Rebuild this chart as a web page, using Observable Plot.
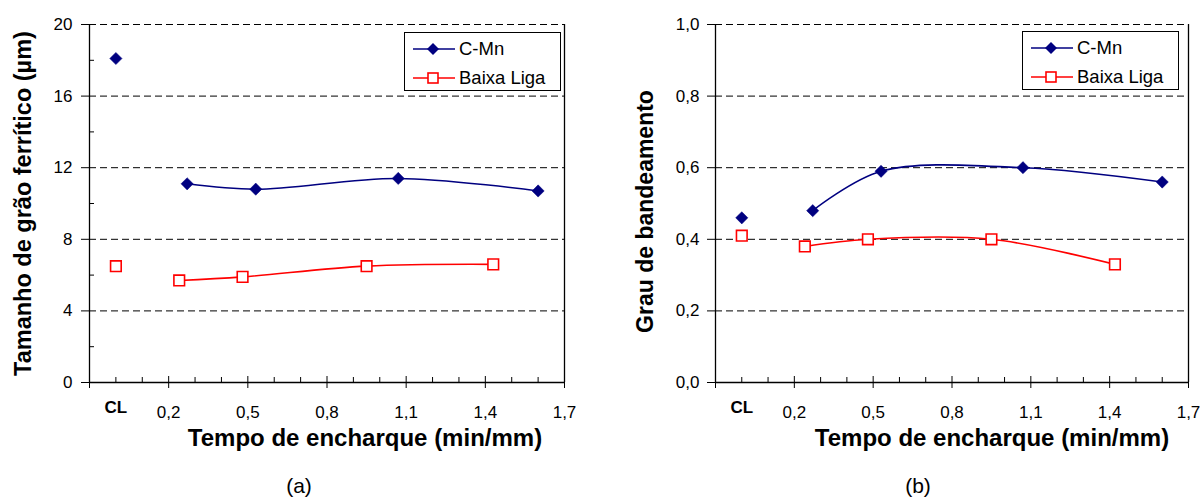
<!DOCTYPE html>
<html><head><meta charset="utf-8">
<script src="https://cdn.jsdelivr.net/npm/d3@7"></script>
<script src="https://cdn.jsdelivr.net/npm/@observablehq/plot@0.6"></script>
<style>
body{margin:0;background:#fff;font-family:"Liberation Sans",Arial,sans-serif;}
#wrap{position:relative;width:1200px;height:499px;overflow:hidden;background:#fff;}
.panel{position:absolute;top:0;}
.legend{position:absolute;box-sizing:border-box;border:1px solid #000;background:#fff;font-size:18.5px;padding:2px 0 0 8px;}
.legend .row{display:flex;align-items:center;height:28.5px;}
.legend svg{display:block;margin-right:4px;}
.cap{position:absolute;font-size:21px;transform:translate(-50%,-50%);white-space:nowrap;}
</style></head>
<body><div id="wrap"></div>
<script>
// ---------- shared axis data ----------
const xMajorTicks = [-0.1, 0.2, 0.5, 0.8, 1.1, 1.4, 1.7];
const xLabelTicks = [0.2, 0.5, 0.8, 1.1, 1.4, 1.7];
const xMinorTicks = [0, 0.1, 0.3, 0.4, 0.6, 0.7, 0.9, 1.0, 1.2, 1.3, 1.5, 1.6];
const clPosition = 0;
const clLabel = "CL";
const xTitle = "Tempo de encharque (min/mm)";
const seriesNames = ["C-Mn", "Baixa Liga"];
const seriesColors = ["#000080", "#ff0000"];

// ---------- chart (a): grain size ----------
const aYTicks = [0, 4, 8, 12, 16, 20];
const aYMinor = [2, 6, 10, 14, 18];
const aYGrid = [4, 8, 12, 16, 20];
const aTitle = "Tamanho de grão ferrítico (µm)";
const aCMnTime = [0.27, 0.53, 1.07, 1.60];
const aCMnValue = [11.1, 10.8, 11.4, 10.7];
const aCMnCL = 18.1;
const aBLTime = [0.24, 0.48, 0.95, 1.43];
const aBLValue = [5.7, 5.9, 6.5, 6.6];
const aBLCL = 6.5;

// ---------- chart (b): banding degree ----------
const bYTicks = [0, 0.2, 0.4, 0.6, 0.8, 1.0];
const bYMinor = [];
const bYGrid = [0.2, 0.4, 0.6, 0.8, 1.0];
const bTitle = "Grau de bandeamento";
const bCMnTime = [0.27, 0.53, 1.07, 1.60];
const bCMnValue = [0.48, 0.59, 0.60, 0.56];
const bCMnCL = 0.46;
const bBLTime = [0.24, 0.48, 0.95, 1.42];
const bBLValue = [0.38, 0.40, 0.40, 0.33];
const bBLCL = 0.41;

const comma = (digits) => (d) => d.toFixed(digits).replace(".", ",");
const rows = (xs, ys) => xs.map((x, i) => ({x, y: ys[i]}));

function makeChart(cfg) {
  const W = 600, H = 499;
  const frameW = W - cfg.ml - cfg.mr;
  const frameH = H - cfg.mt - cfg.mb;
  const cmn = rows(cfg.cmnTime, cfg.cmnValue);
  const bl = rows(cfg.blTime, cfg.blValue);
  return Plot.plot({
    width: W, height: H,
    marginLeft: cfg.ml, marginRight: cfg.mr, marginTop: cfg.mt, marginBottom: cfg.mb,
    style: {fontFamily: '"Liberation Sans", Arial, sans-serif', background: "#fff", color: "#000", overflow: "visible"},
    x: {domain: [-0.1, 1.7], axis: null},
    y: {domain: cfg.yDomain, axis: null},
    marks: [
      Plot.ruleY(cfg.yGrid, {stroke: "#000", strokeWidth: 1, strokeDasharray: "7,4"}),
      // frame (left, bottom, right solid)
      Plot.ruleX([-0.1, 1.7], {stroke: "#000", strokeWidth: 1.3}),
      Plot.ruleY([cfg.yDomain[0]], {stroke: "#000", strokeWidth: 1.3}),
      // y axis
      Plot.axisY(cfg.yTicks, {anchor: "left", tickSize: 8, tickPadding: cfg.yPad, tickFormat: comma(cfg.yDigits), fontSize: 17, label: null, strokeWidth: 1}),
      Plot.tickY(cfg.yMinor, {y: d => d, stroke: "#000", insetRight: frameW - 5}),
      // x axis
      Plot.axisX(xLabelTicks, {anchor: "bottom", tickSize: 0, tickPadding: 23, tickFormat: comma(1), fontSize: 17, label: null}),
      Plot.tickX(xMajorTicks, {x: d => d, stroke: "#000", insetTop: frameH, insetBottom: -6}),
      Plot.tickX(xMajorTicks, {x: d => d, stroke: "#000", insetTop: frameH - 6}),
      Plot.tickX(xMinorTicks, {x: d => d, stroke: "#000", insetTop: frameH - 5}),
      Plot.text([clPosition], {x: d => d, text: () => clLabel, frameAnchor: "bottom", dy: 30, fontSize: 17, fontWeight: "bold"}),
      // titles
      Plot.text([xTitle], {frameAnchor: "bottom", dx: cfg.xTitleDx, dy: 63, fontSize: 24, fontWeight: "bold"}),
      Plot.text([cfg.yTitle], {frameAnchor: "left", textAnchor: "middle", dx: cfg.yTitleDx, dy: cfg.yTitleDy, rotate: -90, fontSize: cfg.yTitleSize, fontWeight: "bold"}),
      // series
      Plot.line(cmn, {x: "x", y: "y", curve: "catmull-rom", stroke: seriesColors[0], strokeWidth: 1.6}),
      Plot.line(bl, {x: "x", y: "y", curve: "catmull-rom", stroke: seriesColors[1], strokeWidth: 1.6}),
      Plot.dot(cmn.concat([{x: clPosition, y: cfg.cmnCL}]), {x: "x", y: "y", symbol: "diamond2", r: 5.5, fill: seriesColors[0], stroke: seriesColors[0], strokeWidth: 0.5}),
      Plot.dot(bl.concat([{x: clPosition, y: cfg.blCL}]), {x: "x", y: "y", symbol: "square", r: 6, fill: "#fff", stroke: seriesColors[1], strokeWidth: 1.6})
    ]
  });
}

function legend(left, top) {
  const box = document.createElement("div");
  box.className = "legend";
  Object.assign(box.style, {left: left + "px", top: top + "px", width: "157px", height: "59px"});
  seriesNames.forEach((name, i) => {
    const row = document.createElement("div");
    row.className = "row";
    const s = d3.create("svg").attr("width", 42).attr("height", 16);
    s.append("line").attr("x1", 0).attr("x2", 42).attr("y1", 8).attr("y2", 8).attr("stroke", seriesColors[i]).attr("stroke-width", 1.6);
    if (i === 0) {
      s.append("path").attr("d", "M20,2L26,8L20,14L14,8Z").attr("fill", seriesColors[0]);
    } else {
      s.append("rect").attr("x", 15).attr("y", 3).attr("width", 10).attr("height", 10).attr("fill", "#fff").attr("stroke", seriesColors[1]).attr("stroke-width", 1.6);
    }
    row.appendChild(s.node());
    const t = document.createElement("span");
    t.textContent = name;
    row.appendChild(t);
    box.appendChild(row);
  });
  return box;
}

const wrap = document.getElementById("wrap");

const pa = document.createElement("div");
pa.className = "panel"; pa.style.left = "0px";
pa.appendChild(makeChart({
  ml: 89, mr: 36, mt: 24, mb: 117, yDomain: [0, 20], yTicks: aYTicks, yMinor: aYMinor, yGrid: aYGrid,
  yDigits: 0, yPad: 9, yTitle: aTitle, yTitleSize: 23.5, xTitleDx: 38, yTitleDx: -66, yTitleDy: 0,
  cmnTime: aCMnTime, cmnValue: aCMnValue, cmnCL: aCMnCL, blTime: aBLTime, blValue: aBLValue, blCL: aBLCL
}));
wrap.appendChild(pa);

const pb = document.createElement("div");
pb.className = "panel"; pb.style.left = "600px";
pb.appendChild(makeChart({
  ml: 115, mr: 12, mt: 24, mb: 117, yDomain: [0, 1], yTicks: bYTicks, yMinor: bYMinor, yGrid: bYGrid,
  yDigits: 1, yPad: 8, yTitle: bTitle, yTitleSize: 23, xTitleDx: 40, yTitleDx: -70, yTitleDy: 8,
  cmnTime: bCMnTime, cmnValue: bCMnValue, cmnCL: bCMnCL, blTime: bBLTime, blValue: bBLValue, blCL: bBLCL
}));
wrap.appendChild(pb);

wrap.appendChild(legend(404, 32));
wrap.appendChild(legend(1022, 31));

[["(a)", 299], ["(b)", 918]].forEach(([t, x]) => {
  const c = document.createElement("div");
  c.className = "cap"; c.textContent = t;
  c.style.left = x + "px"; c.style.top = "486px";
  wrap.appendChild(c);
});
</script>
</body></html>
